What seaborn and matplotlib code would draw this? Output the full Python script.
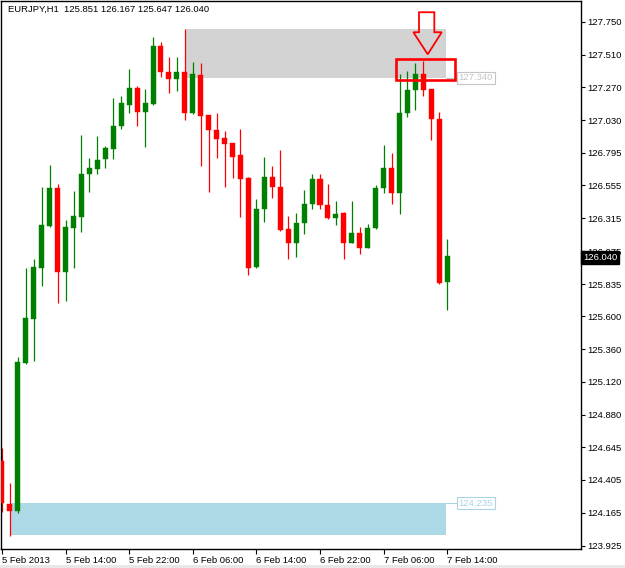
import numpy as np
import pandas as pd
import seaborn as sns
import matplotlib.pyplot as plt
from matplotlib.patches import Rectangle, Polygon
from matplotlib.transforms import blended_transform_factory

# EURJPY H1 candles, 5 Feb 06:00 -> 7 Feb 14:00
opens = [124.543, 124.230, 124.175, 125.259, 125.580, 125.952, 126.259, 126.536, 125.923, 126.244,
         126.324, 126.638, 126.675, 126.746, 126.821, 126.989, 127.142, 127.266, 127.091, 127.149,
         127.573, 127.383, 127.332, 127.383, 127.081, 127.361, 127.069, 126.959, 126.901, 126.865,
         126.777, 126.609, 125.959, 126.383, 126.615, 126.542, 126.236, 126.135, 126.283, 126.420,
         126.602, 126.410, 126.317, 126.354, 126.135, 126.208, 126.099, 126.245, 126.536, 126.682,
         126.499, 127.083, 127.251, 127.368, 127.259, 127.040, 125.851]
highs = [124.638, 124.383, 125.304, 125.952, 126.018, 126.546, 126.704, 126.565, 126.303, 126.516,
         126.923, 126.755, 126.916, 126.843, 127.193, 127.208, 127.405, 127.281, 127.259, 127.638,
         127.602, 127.492, 127.492, 127.697, 127.456, 127.449, 127.069, 127.083, 126.952, 126.865,
         126.967, 126.616, 126.456, 126.761, 126.697, 126.814, 126.332, 126.354, 126.523, 126.637,
         126.637, 126.564, 126.441, 126.361, 126.441, 126.252, 126.274, 126.558, 126.850, 126.790,
         127.366, 127.390, 127.449, 127.465, 127.259, 127.089, 126.167]
lows = [124.171, 123.996, 124.164, 125.252, 125.273, 125.821, 126.252, 125.699, 125.713, 125.952,
        126.215, 126.507, 126.638, 126.682, 126.748, 126.967, 127.083, 126.989, 126.836, 127.142,
        127.346, 127.230, 127.242, 127.032, 127.076, 126.699, 126.507, 126.757, 126.543, 126.609,
        126.325, 125.901, 125.952, 126.288, 126.463, 126.222, 126.017, 126.035, 126.203, 126.381,
        126.381, 126.310, 126.266, 126.017, 126.135, 126.052, 126.099, 126.238, 126.502, 126.417,
        126.346, 127.054, 127.105, 127.210, 126.886, 125.836, 125.647]
closes = [124.237, 124.179, 125.266, 125.587, 125.960, 126.266, 126.536, 125.923, 126.252, 126.332,
          126.638, 126.682, 126.741, 126.828, 126.989, 127.157, 127.266, 127.091, 127.157, 127.573,
          127.383, 127.332, 127.383, 127.084, 127.368, 127.062, 126.959, 126.894, 126.857, 126.762,
          126.602, 125.952, 126.383, 126.615, 126.542, 126.230, 126.135, 126.283, 126.420, 126.602,
          126.410, 126.317, 126.346, 126.135, 126.208, 126.099, 126.245, 126.536, 126.682, 126.499,
          127.083, 127.251, 127.368, 127.251, 127.040, 125.843, 126.040]

ytick_vals = [127.750, 127.510, 127.270, 127.030, 126.795, 126.555, 126.315, 126.075, 125.835,
              125.600, 125.360, 125.120, 124.880, 124.645, 124.405, 124.165, 123.925]
xtick_labels = ["5 Feb 2013", "5 Feb 14:00", "5 Feb 22:00", "6 Feb 06:00", "6 Feb 14:00",
                "6 Feb 22:00", "7 Feb 06:00", "7 Feb 14:00"]

supply_zone = (127.340, 127.697)
demand_zone = (124.005, 124.235)
last_price = 126.040
header = "EURJPY,H1  125.851 126.167 125.647 126.040"

df = pd.DataFrame({"open": opens, "high": highs, "low": lows, "close": closes})
df["x"] = np.arange(len(df))
df["up"] = df["close"] >= df["open"]

sns.set_style("white")
plt.rcParams["font.family"] = ["Liberation Sans", "DejaVu Sans"]

fig = plt.figure(figsize=(6.25, 5.68), dpi=100)
ax = fig.add_axes([1.5 / 625, 19 / 568, 579.2 / 625, 548 / 568])

green, red = "#008000", "#ff0000"
cols = np.where(df["up"], green, red)

# zones
ax.add_patch(Rectangle((23.2, supply_zone[0]), 55.9 - 23.2, supply_zone[1] - supply_zone[0],
                       fc="#d3d3d3", ec="none", zorder=1))
ax.add_patch(Rectangle((1.1, demand_zone[0]), 55.9 - 1.1, demand_zone[1] - demand_zone[0],
                       fc="#add8e6", ec="none", zorder=1))

# candles
ax.vlines(df["x"], df["low"], df["high"], colors=cols, lw=0.9, zorder=2)
body_lo = np.minimum(df["open"], df["close"])
body_h = np.maximum(np.abs(df["close"] - df["open"]), 0.004)
ax.bar(df["x"], body_h, bottom=body_lo, width=0.63, color=cols, edgecolor=cols, lw=0.3, zorder=3)

# zone labels
for lvl, c in [(supply_zone[0], "#c4c4c4"), (demand_zone[1], "#a8d4e4")]:
    ax.plot([55.9, 57.3], [lvl, lvl], color=c, lw=0.8, zorder=1, clip_on=False)
    ax.text(57.45, lvl, f"{lvl:.3f}", ha="left", va="center", fontsize=6.8, color=c,
            bbox=dict(fc="white", ec=c, lw=0.8, pad=1.0), zorder=4)

# highlight box and arrow
ax.add_patch(Rectangle((49.6, 127.324), 7.4, 0.152, fill=False, ec=red, lw=1.9, zorder=5))
arrow = [(52.45, 127.819), (54.38, 127.819), (54.38, 127.673), (55.31, 127.673),
         (53.55, 127.512), (51.74, 127.673), (52.45, 127.673)]
ax.add_patch(Polygon(arrow, closed=True, fill=False, ec=red, lw=1.3, zorder=5))

ax.set_xlim(-0.06, 72.79)
ax.set_ylim(123.901, 127.901)

ax.yaxis.tick_right()
ax.set_yticks(ytick_vals)
ax.set_yticklabels([f"{v:.3f}" for v in ytick_vals])
ax.set_xticks(np.arange(0, 57, 8))
ax.set_xticklabels(xtick_labels)
for lbl in ax.get_xticklabels():
    lbl.set_ha("left")
ax.tick_params(axis="y", direction="out", length=3, width=0.8, pad=2, labelsize=6.8,
               colors="black", right=True, left=False)
ax.tick_params(axis="x", direction="out", length=3.5, width=0.8, pad=1.5, labelsize=6.8,
               colors="black", bottom=True)
for s in ax.spines.values():
    s.set_color("black")
    s.set_linewidth(1)

# current price box (covers the lower half of the 126.075 tick label, as in the terminal)
tr = blended_transform_factory(ax.transAxes, ax.transData)
ax.text(1.004, last_price - 0.01, f"{last_price:.3f}", transform=tr, ha="left", va="center",
        fontsize=6.8, color="white", zorder=10,
        bbox=dict(fc="black", ec="black", pad=1.2))

ax.text(6.7 / 579.2, 1 - 8 / 548, header, transform=ax.transAxes, ha="left", va="center",
        fontsize=6.8, color="black")

fig.patches.append(Rectangle((0, 0), 1, 3 / 568, transform=fig.transFigure,
                             fc="#e8e8e8", ec="none"))

fig.savefig("out.png", dpi=100)
